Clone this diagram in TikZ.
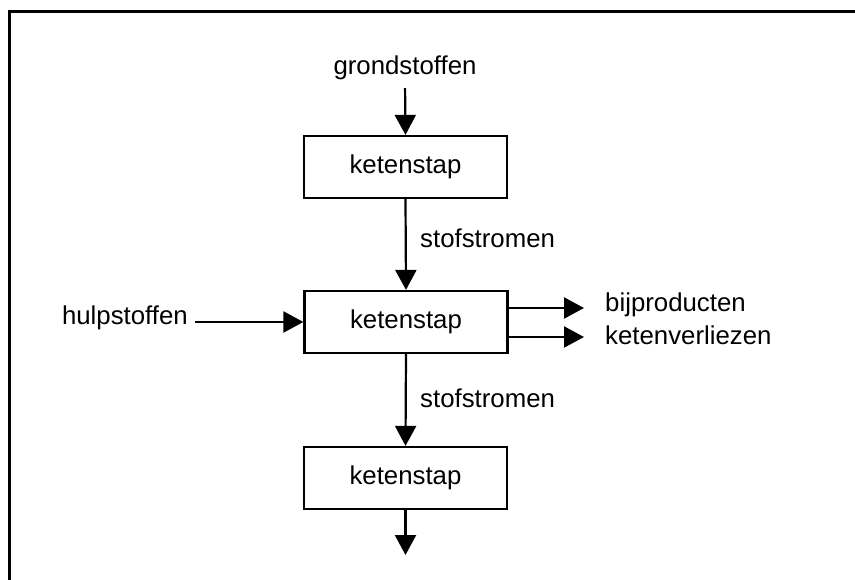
\documentclass[tikz,border=0pt]{standalone}
\usepackage{fontspec}
\setmainfont{Liberation Sans}
\usetikzlibrary{arrows.meta,calc}
\begin{document}
\begin{tikzpicture}[x=1pt,y=-1pt,
  every node/.style={font=\fontsize{25.8}{30}\selectfont},
  stepbox/.style={draw,line width=2.2pt,minimum width=203pt,minimum height=62pt,inner sep=0pt},
  lbl/.style={inner sep=0pt},
  arr/.style={line width=2.2pt,-{Triangle[width=21pt,length=20pt]}}]
\useasboundingbox (0,0) rectangle (855,580);
\draw[line width=2.2pt] (855,11.5) -- (9.5,11.5) -- (9.5,580);
\node[lbl] (grond) at (405,68) {grondstoffen};
\node[stepbox] (b1) at (405.5,167) {ketenstap};
\node[stepbox] (b2) at (406,322) {ketenstap};
\node[stepbox] (b3) at (405.5,478) {ketenstap};
\node[lbl,anchor=west] (s1) at (420,238) {stofstromen};
\node[lbl,anchor=west] (s2) at (420,398) {stofstromen};
\node[lbl,anchor=east] (hulp) at (188,318) {hulpstoffen};
\node[lbl,anchor=west] (bij) at (605,305) {bijproducten};
\node[lbl,anchor=west] (ket) at (605,335) {ketenverliezen};
\coordinate (end) at (405.5,555);
\draw[arr,shorten <=8pt] (grond.south) -- (b1.north);
\draw[arr] (b1.south) -- (b2.north);
\draw[arr] (b2.south) -- (b3.north);
\draw[arr] (b3.south) -- (end);
\draw[arr] ($(hulp.east)+(7,4)$) -- (b2.west |- {$(hulp.east)+(7,4)$});
\draw[arr] ($(b2.east)+(0,-14)$) -- ($(bij.west)+(-21,3)$);
\draw[arr] ($(b2.east)+(0,15)$) -- ($(ket.west)+(-21,2)$);
\end{tikzpicture}
\end{document}
